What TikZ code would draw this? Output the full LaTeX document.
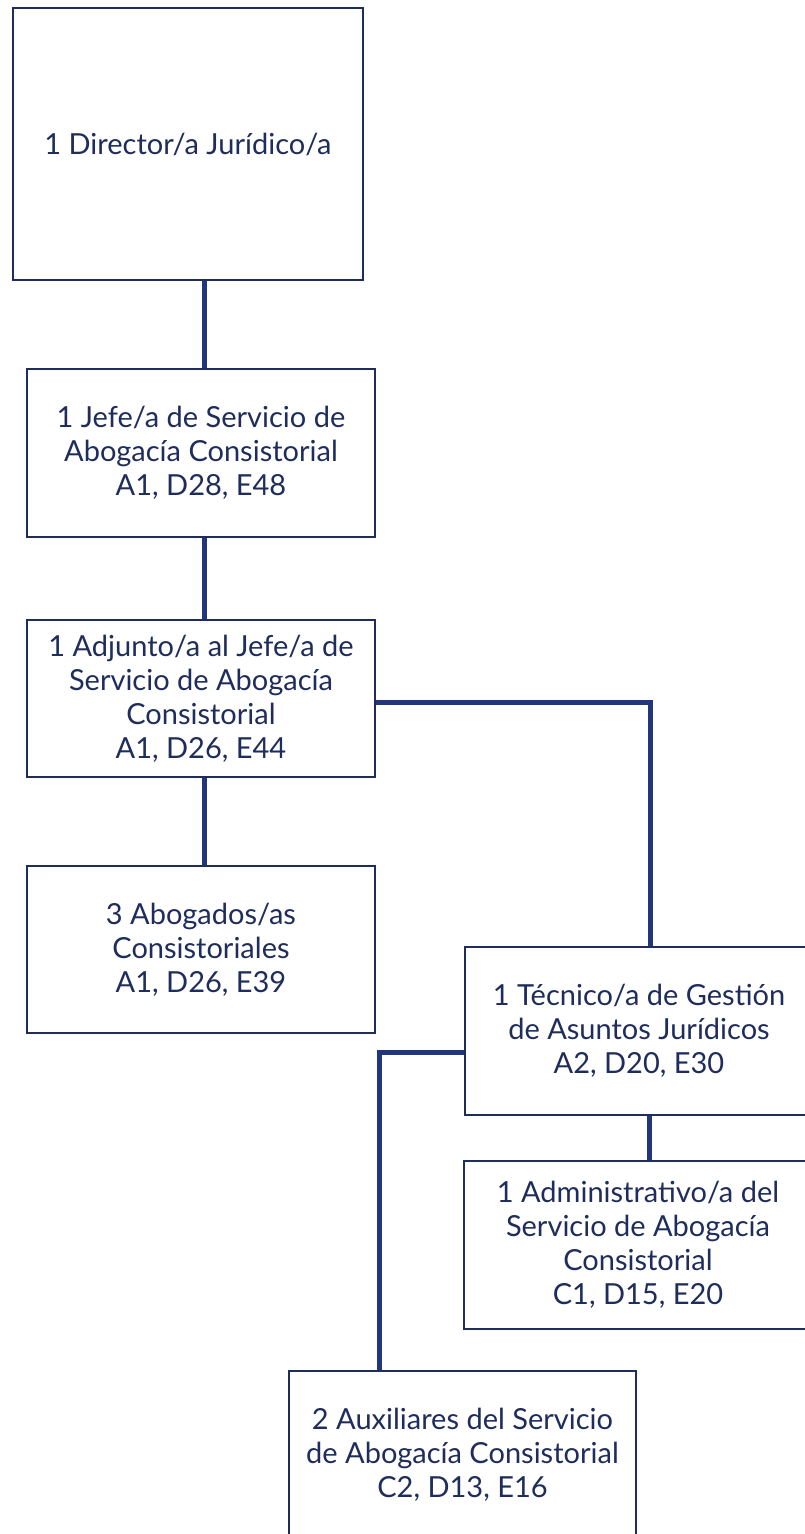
\documentclass[tikz,border=0pt]{standalone}
\usepackage{fontspec}
\setmainfont{Lato}
\definecolor{marino}{HTML}{1F2D5C}
\definecolor{azulinea}{HTML}{22367C}
\tikzset{
	puesto/.style={draw=marino, line width=2pt, fill=white, text=marino, align=center,
		minimum width=348pt, minimum height=168pt, inner sep=0pt,
		font=\fontsize{29}{34}\selectfont},
	conector/.style={draw=azulinea, line width=5pt}
}
\begin{document}
\begin{tikzpicture}[x=1pt,y=-1pt]
				\clip (0,0) rectangle (805,1534);
				\fill[white] (0,0) rectangle (805,1534);
				% Puestos
				\node[puesto, minimum width=350pt, minimum height=272pt] (dir) at (188,144) {1 Director/a Jurídico/a};
				\node[puesto] (jefe) at (201,453) {1 Jefe/a de Servicio de\\Abogacía Consistorial\\A1, D28, E48};
				\node[puesto, minimum height=157pt] (adj) at (201,698.5) {1 Adjunto/a al Jefe/a de\\Servicio de Abogacía\\Consistorial\\A1, D26, E44};
				\node[puesto, minimum height=167pt] (abog) at (201,949.5) {3 Abogados/as\\Consistoriales\\A1, D26, E39};
				\node[puesto] (tec) at (639,1031) {1 Técnico/a de Gestión\\de Asuntos Jurídicos\\A2, D20, E30};
				\node[puesto] (adm) at (638,1245) {1 Administrativo/a del\\Servicio de Abogacía\\Consistorial\\C1, D15, E20};
				\node[puesto, minimum width=347pt, minimum height=167pt] (aux) at (462.5,1454.5) {2 Auxiliares del Servicio\\de Abogacía Consistorial\\C2, D13, E16};
				
				% Conectores
				\draw[conector] ([xshift=3pt]jefe.north |- dir.south) -- ([xshift=3pt]jefe.north);
				\draw[conector] ([xshift=3pt]jefe.south) -- ([xshift=3pt]adj.north);
				\draw[conector] ([xshift=3pt]adj.south) -- ([xshift=3pt]abog.north);
				\draw[conector] ([yshift=-3.5pt]adj.east) -| ([xshift=11pt]tec.north);
				\draw[conector] ([xshift=10pt]tec.south) -- ([xshift=11pt]adm.north);
				\draw[conector] ([yshift=-21pt]tec.west) -| ([xshift=-83.5pt]aux.north);
			\end{tikzpicture}
\end{document}
